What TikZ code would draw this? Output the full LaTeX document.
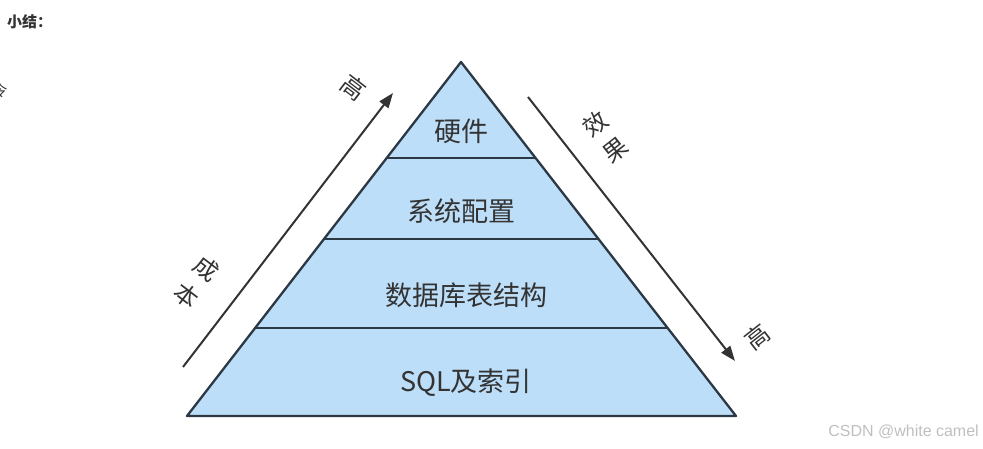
\documentclass[tikz,border=0pt]{standalone}
\usepackage{fontspec}
\setmainfont{Noto Sans CJK SC}
\newfontfamily\markfont{Liberation Sans}
\usetikzlibrary{arrows.meta}
\definecolor{layerfill}{RGB}{189,222,248}
\definecolor{edgecol}{RGB}{44,56,68}
\definecolor{txtcol}{RGB}{51,51,51}
\tikzset{
  layerlabel/.style={text=txtcol,font=\fontsize{27}{30}\selectfont},
  sidelabel/.style={text=txtcol,font=\fontsize{24}{33}\selectfont,align=center},
  sidearrow/.style={draw=txtcol,line width=2pt,-{Triangle[length=15pt,width=11pt]}},
  layerline/.style={draw=edgecol,line width=2.3pt},
}
\begin{document}
\begin{tikzpicture}[x=1pt,y=-1pt]
\useasboundingbox (0,0) rectangle (983,449);
\node[anchor=west,inner sep=0pt,text=txtcol,font=\bfseries\fontsize{15}{17}\selectfont] (title) at (7,22) {小结：};
\node[inner sep=0pt,text=txtcol,font=\fontsize{15}{17}\selectfont] (cut) at (0,91) {令};
% pyramid
\draw[draw=edgecol,fill=layerfill,line width=2.3pt,line join=round] (461,62) -- (736,416) -- (187,416) -- cycle;
\draw[layerline] (386.7,158) -- (535.6,158);
\draw[layerline] (324.0,239) -- (598.5,239);
\draw[layerline] (255.1,328) -- (667.7,328);
\node[layerlabel] (hw) at (461,131) {硬件};
\node[layerlabel] (sys) at (461,211) {系统配置};
\node[layerlabel] (db) at (466,295) {数据库表结构};
\node[layerlabel] (sql) at (466,383) {SQL及索引};
% cost arrow
\coordinate (costlow) at (183,367);
\coordinate (costhigh) at (393,93);
\draw[sidearrow] (costlow) -- (costhigh);
\node[sidelabel,rotate=-37.5] (cost) at (197,282) {成\\本};
\node[sidelabel,rotate=-37.5] (costtop) at (354,88) {高};
% effect arrow
\coordinate (efflow) at (528,97);
\coordinate (effhigh) at (735,361);
\draw[sidearrow] (efflow) -- (effhigh);
\node[sidelabel,rotate=38] (effect) at (605,137) {效\\果};
\node[sidelabel,rotate=38] (efftop) at (757,337) {高};
\node[anchor=east,inner sep=0pt,text=black!25,font=\markfont\fontsize{16}{18}\selectfont] (mark) at (979,432) {CSDN @white camel};
\end{tikzpicture}
\end{document}
